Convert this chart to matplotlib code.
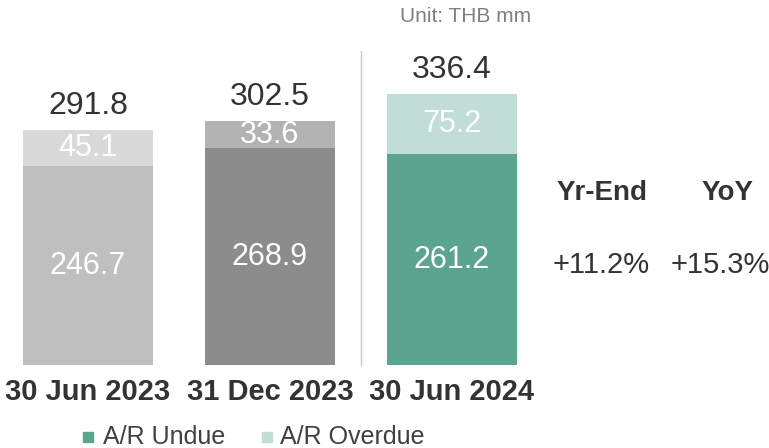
import matplotlib
matplotlib.use("Agg")
import matplotlib.pyplot as plt
from matplotlib.patches import Rectangle

# Accounts receivable, THB mm
periods = ["30 Jun 2023", "31 Dec 2023", "30 Jun 2024"]
undue = [246.7, 268.9, 261.2]
overdue = [45.1, 33.6, 75.2]
totals = [291.8, 302.5, 336.4]
growth_labels = ["Yr-End", "YoY"]
growth_values = ["+11.2%", "+15.3%"]

undue_colors = ["#BFBFBF", "#8C8C8C", "#5BA58E"]
overdue_colors = ["#D9D9D9", "#B3B3B3", "#C0DDD6"]

W, H = 769, 448
fig = plt.figure(figsize=(W / 100, H / 100), dpi=100)
ax = fig.add_axes([0, 0, 1, 1])

# map data coordinates onto the canvas
x0_px, step_px = 88, 182
base_px, px_per_unit = 365, 0.806
ax.set_xlim(-x0_px / step_px, (W - x0_px) / step_px)
ax.set_ylim(-(H - base_px) / px_per_unit, base_px / px_per_unit)
ax.axis("off")

FONT = "Liberation Sans"
width = 0.714
xs = list(range(len(periods)))

ax.bar(xs, undue, width=width, color=undue_colors, linewidth=0)
ax.bar(xs, overdue, width=width, bottom=undue, color=overdue_colors, linewidth=0)

for x, u, o, t, lab in zip(xs, undue, overdue, totals, periods):
    ax.text(x, u / 2, f"{u:.1f}", ha="center", va="center", color="white",
            fontsize=22, family=FONT)
    ax.text(x, u + o / 2, f"{o:.1f}", ha="center", va="center", color="white",
            fontsize=22, family=FONT)
    ax.text(x, t + 11, f"{t:.1f}", ha="center", va="bottom", color="#333333",
            fontsize=23, family=FONT)
    ax.text(x, -33, lab, ha="center", va="center", color="#333333",
            fontsize=21, family=FONT, fontweight="bold")

# divider between prior periods and the current one
ax.plot([1.5, 1.5], [0, 390], color="#C8C8C8", linewidth=1)

def px(x, y):
    return x / W, 1 - y / H

fig.text(*px(466, 17), "Unit: THB mm", ha="center", va="center",
         color="#7F7F7F", fontsize=15, family=FONT)

for cx, lab in zip([602, 728], growth_labels):
    fig.text(*px(cx, 193), lab, ha="center", va="center", color="#333333",
             fontsize=20, fontweight="bold", family=FONT)
for cx, val in zip([601, 720], growth_values):
    fig.text(*px(cx, 265), val, ha="center", va="center", color="#333333",
             fontsize=21, family=FONT)

# legend
legend_y = 437
for sx, tx, col, lab in [(83, 103, undue_colors[2], "A/R Undue"),
                         (262, 280, overdue_colors[2], "A/R Overdue")]:
    fig.patches.append(Rectangle(px(sx, legend_y + 5), 10 / W, 10 / H,
                                 transform=fig.transFigure, color=col))
    fig.text(*px(tx, legend_y), lab, ha="left", va="center", color="#404040",
             fontsize=18, family=FONT)

fig.savefig("out.png", dpi=100)
